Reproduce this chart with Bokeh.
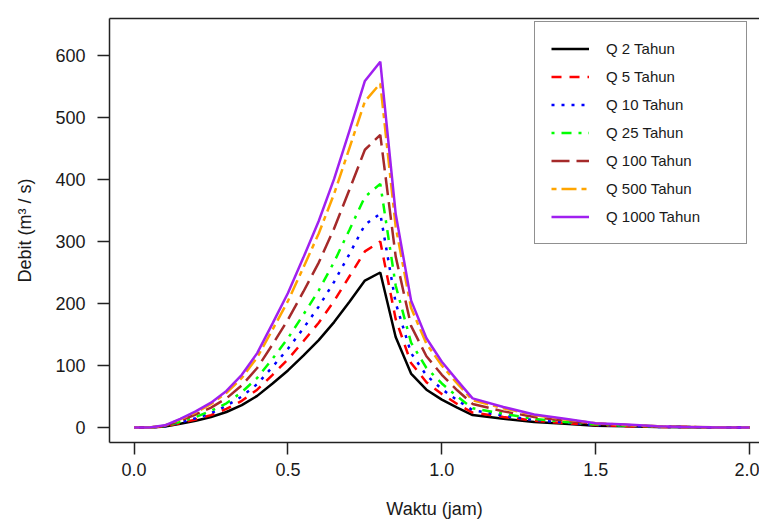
from bokeh.plotting import figure
from bokeh.models import Legend, LegendItem, FixedTicker, Range1d, LinearAxis
from bokeh.embed import file_html
from bokeh.resources import INLINE

# ---- data ----
waktu = [0, 0.05, 0.1, 0.15, 0.2, 0.25, 0.3, 0.35, 0.4, 0.45, 0.5, 0.55, 0.6, 0.65,
         0.7, 0.75, 0.8, 0.85, 0.9, 0.95, 1.0, 1.05, 1.1, 1.2, 1.3, 1.4, 1.5, 1.6,
         1.7, 1.8, 1.9, 2.0]
q2 = [0, 0, 1.5, 6, 11, 17, 25, 36, 51, 71, 92, 116, 141, 170, 203, 237, 250, 146,
      87, 61, 45, 32, 20, 14, 9, 6, 3, 2, 1, 0.5, 0, 0]
q5 = [0, 0, 1.8, 7, 13, 20, 30, 43, 61, 85, 110, 139, 169, 204, 244, 284, 300, 175,
      104, 73, 54, 38, 24, 17, 11, 7, 4, 2, 1, 0.6, 0, 0]
q10 = [0, 0, 2, 8, 15, 23, 35, 50, 70, 98, 127, 160, 195, 235, 280, 327, 345, 201,
       120, 84, 62, 44, 28, 19, 12, 8, 4, 3, 1, 0.7, 0, 0]
q25 = [0, 0, 2.4, 9, 17, 27, 39, 57, 80, 111, 144, 182, 221, 267, 319, 372, 393, 229,
       137, 96, 71, 50, 31, 22, 14, 9, 5, 3, 2, 0.8, 0, 0]
q100 = [0, 0, 2.8, 11, 21, 32, 47, 68, 96, 134, 174, 219, 266, 321, 384, 448, 472, 276,
        164, 115, 85, 60, 38, 26, 17, 11, 6, 4, 2, 1, 0, 0]
q500 = [0, 0, 3.3, 13, 24, 38, 56, 80, 113, 158, 204, 258, 313, 377, 451, 526, 555, 324,
        193, 135, 100, 71, 44, 31, 20, 13, 7, 4, 2, 1, 0, 0]
q1000 = [0, 0, 3.5, 14, 26, 40, 59, 85, 120, 168, 217, 274, 333, 401, 479, 559, 590, 345,
         205, 144, 106, 76, 47, 33, 21, 14, 7, 5, 2, 1, 0, 0]

series = [q2, q5, q10, q25, q100, q500, q1000]
names = ["Q 2 Tahun", "Q 5 Tahun", "Q 10 Tahun", "Q 25 Tahun", "Q 100 Tahun",
         "Q 500 Tahun", "Q 1000 Tahun"]
colors = ["#000000", "#FF0000", "#0000FF", "#00FF00", "#A52A2A", "#FFA500", "#A020F0"]
dashes = ["solid", "10 8", "3 7", "3 7 10 7", "18 7", "5 5 15 5", "solid"]

x_ticks = [0, 0.5, 1.0, 1.5, 2.0]
x_tick_labels = ["0.0", "0.5", "1.0", "1.5", "2.0"]
y_ticks = [0, 100, 200, 300, 400, 500, 600]

FONT = "Liberation Sans"
TXT = "#1a1a1a"
EDGE = "#222222"

p = figure(width=759, height=524, output_backend="svg", toolbar_location=None,
           x_range=Range1d(-0.08, 2.0324), y_range=Range1d(-24.2, 659.7),
           min_border_left=109, min_border_right=0, min_border_top=18,
           min_border_bottom=82)
p.background_fill_color = "white"
p.border_fill_color = "white"
p.grid.visible = False
p.outline_line_color = None

xax = p.below[0]
yax = p.left[0]

items = []
for ys, nm, c, d in zip(series, names, colors, dashes):
    r = p.line(waktu, ys, line_color=c, line_width=2.5, line_dash=d)
    items.append(LegendItem(label=nm, renderers=[r]))

# top border of the plot box (the right side runs off the picture)
top_axis = LinearAxis(ticker=FixedTicker(ticks=[]), axis_line_color=EDGE,
                      axis_line_width=1.5, major_tick_line_color=None,
                      minor_tick_line_color=None, major_label_text_font_size="0px",
                      major_label_standoff=0, major_tick_out=0, major_tick_in=0)
p.add_layout(top_axis, "above")

# axes
xax.ticker = FixedTicker(ticks=x_ticks)
xax.major_label_overrides = {t: l for t, l in zip(x_ticks, x_tick_labels)}
yax.ticker = FixedTicker(ticks=y_ticks)
for ax in (xax, yax):
    ax.axis_line_color = EDGE
    ax.axis_line_width = 1.5
    ax.minor_tick_line_color = None
    ax.major_tick_in = 0
    ax.major_tick_out = 12
    ax.major_tick_line_color = EDGE
    ax.major_tick_line_width = 1.5
    ax.major_label_text_font = FONT
    ax.major_label_text_font_size = "18px"
    ax.major_label_text_color = TXT
    ax.axis_label_text_font = FONT
    ax.axis_label_text_font_size = "18px"
    ax.axis_label_text_font_style = "normal"
    ax.axis_label_text_color = TXT
yax.major_label_orientation = "horizontal"
xax.major_label_standoff = 8
yax.major_label_standoff = 12
xax.axis_label = "Waktu (jam)"
yax.axis_label = "Debit (m\u00b3 / s)"
xax.axis_label_standoff = 20
yax.axis_label_standoff = 17

legend = Legend(items=items, location=(425, 198), margin=0,
                padding=16, spacing=7, label_height=21, glyph_height=21,
                glyph_width=38, label_standoff=17, label_width=124,
                label_text_font=FONT, label_text_font_size="15px",
                label_text_color=TXT,
                border_line_color=EDGE, border_line_width=1.5,
                background_fill_color="white", background_fill_alpha=1.0)
p.add_layout(legend, "center")

open("out.html", "w").write(file_html(p, INLINE))
